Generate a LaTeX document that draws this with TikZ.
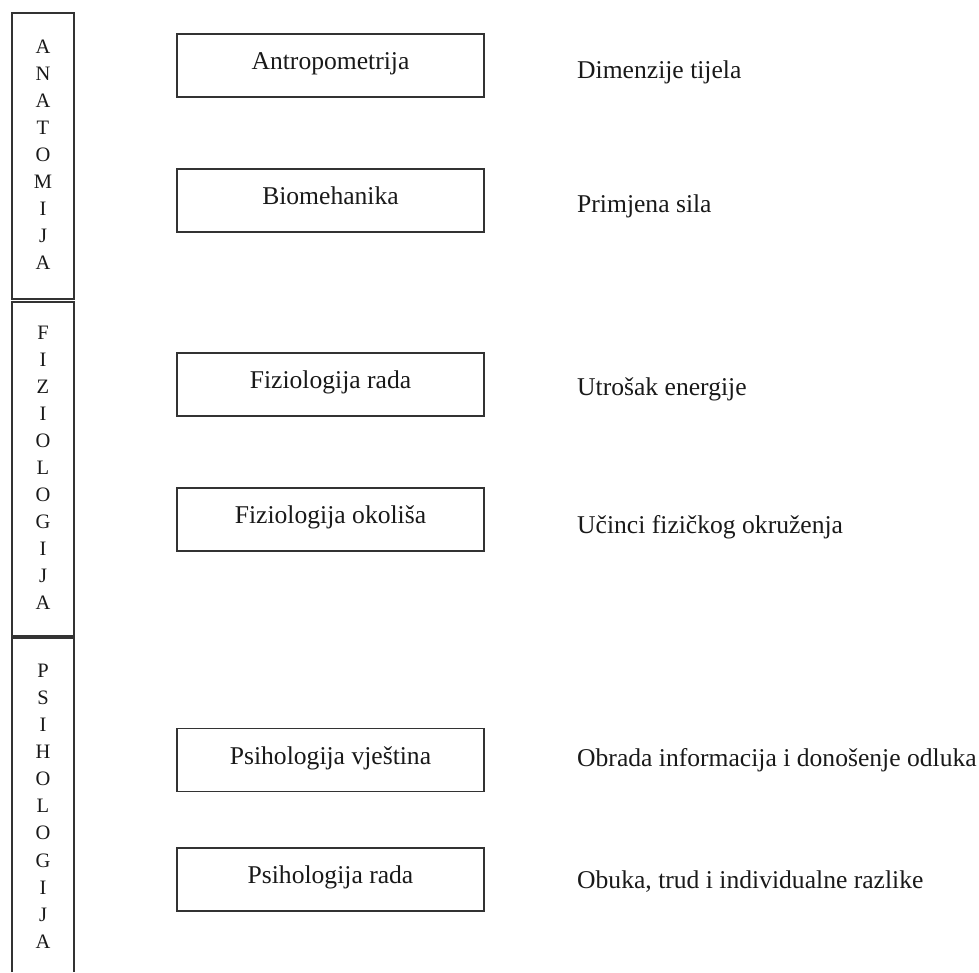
\documentclass[tikz,border=0pt]{standalone}
\usepackage{fontspec}
\setmainfont{Liberation Serif}
\tikzset{
  frame/.style={draw=black!80, line width=1.6pt},
  midbox/.style={frame, minimum width=307pt, minimum height=63pt, inner sep=0pt,
    text height=18pt, text depth=10pt, font=\fontsize{25.6}{30}\selectfont, text=black!90},
  desc/.style={anchor=base west, inner sep=0pt, font=\fontsize{25.6}{30}\selectfont, text=black!90},
  letter/.style={anchor=base, inner sep=0pt, font=\fontsize{20.5}{24}\selectfont, text=black!90}
}
\begin{document}
\begin{tikzpicture}[x=1pt, y=-1pt]
\useasboundingbox (0,0) rectangle (979,972);
% left column boxes
\draw[frame] (12,13) rectangle (74,299);
\draw[frame] (12,302) rectangle (74,636);
\draw[frame] (12,972) -- (12,638) -- (74,638) -- (74,972);
% letters
\foreach \ch [count=\i from 0] in {A,N,A,T,O,M,I,J,A}
  \node[letter] (an\i) at (43,{53.3+27*\i}) {\ch};
\foreach \ch [count=\i from 0] in {F,I,Z,I,O,L,O,G,I,J,A}
  \node[letter] (fi\i) at (43,{339.3+27*\i}) {\ch};
\foreach \ch [count=\i from 0] in {P,S,I,H,O,L,O,G,I,J,A}
  \node[letter] (ps\i) at (43,{677.3+27.1*\i}) {\ch};
% middle boxes
\node[midbox] (b1) at (330.5,65.5) {Antropometrija};
\node[midbox] (b2) at (330.5,200.5) {Biomehanika};
\node[midbox] (b3) at (330.5,384.5) {Fiziologija rada};
\node[midbox] (b4) at (330.5,519.5) {Fiziologija okoliša};
\node[midbox] (b5) at (330.5,760) {Psihologija vještina};
\node[midbox] (b6) at (330.5,879.5) {Psihologija rada};
% descriptions
\node[desc] (d1) at (577,78) {Dimenzije tijela};
\node[desc] (d2) at (577,212) {Primjena sila};
\node[desc] (d3) at (577,395) {Utrošak energije};
\node[desc] (d4) at (577,533) {Učinci fizičkog okruženja};
\node[desc] (d5) at (577,766) {Obrada informacija i donošenje odluka};
\node[desc] (d6) at (577,888) {Obuka, trud i individualne razlike};
\end{tikzpicture}
\end{document}
